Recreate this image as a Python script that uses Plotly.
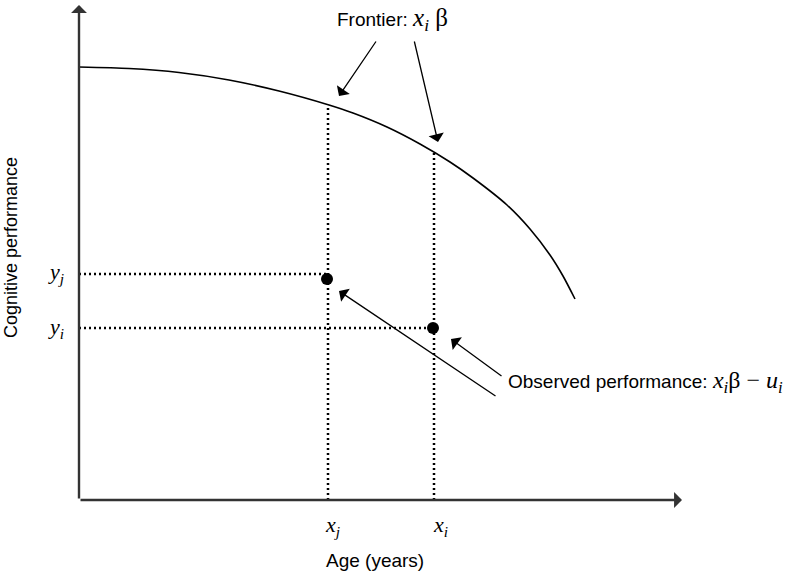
import plotly.graph_objects as go

# ---- data (schematic units: origin at the axes corner) ----
frontier_x = [0, 50, 100, 150, 200, 250, 274, 308, 341, 371, 394, 428, 451, 471, 484, 496]
frontier_y = [433, 431.5, 427.5, 420, 409, 395, 387, 373, 356, 338, 322, 295, 271, 245, 224, 201]

obs_x = [248, 354]            # x_j, x_i
obs_y = [221, 172]            # y_j, y_i
frontier_at_obs = [395, 347]  # frontier height above x_j, x_i
hline_y = [226, 172]          # dotted guide levels for y_j, y_i

x_tick_labels = ["x<sub>j</sub>", "x<sub>i</sub>"]
y_tick_labels = ["y<sub>j</sub>", "y<sub>i</sub>"]

axis_x_end = 603
axis_y_end = 495

# arrows: (tail_x, tail_y, tip_x, tip_y)
frontier_arrows = [(298, 460, 260, 404), (335, 460, 359, 358)]
observed_arrows = [(418, 103, 260, 209), (424, 123, 372, 161)]

SANS = "Liberation Sans, Arial, sans-serif"
SERIF = "Liberation Serif, Times New Roman, serif"


def math(s, size):
    return f"<span style=\"font-family:'Liberation Serif';font-size:{size}px\">{s}</span>"


fig = go.Figure()

# dotted guide lines
for xv, top in zip(obs_x, frontier_at_obs):
    fig.add_trace(go.Scatter(x=[xv + 1, xv + 1], y=[0, top], mode="lines",
                             line=dict(color="black", width=2.5, dash="2px,3px"),
                             hoverinfo="skip", showlegend=False))
for xv, yv in zip(obs_x, hline_y):
    fig.add_trace(go.Scatter(x=[0, xv], y=[yv, yv], mode="lines",
                             line=dict(color="black", width=2.5, dash="2px,3px"),
                             hoverinfo="skip", showlegend=False))

# frontier curve
fig.add_trace(go.Scatter(x=frontier_x, y=frontier_y, mode="lines",
                         line=dict(color="black", width=1.6, shape="spline", smoothing=0.7),
                         hoverinfo="skip", showlegend=False))

# observed points
fig.add_trace(go.Scatter(x=obs_x, y=obs_y, mode="markers",
                         marker=dict(color="black", size=12),
                         hoverinfo="skip", showlegend=False))

annotations = []
# axes with arrowheads
annotations.append(dict(x=axis_x_end, y=0, ax=0, ay=0, xref="x", yref="y", axref="x", ayref="y",
                        text="", showarrow=True, arrowhead=1, arrowsize=1.1, arrowwidth=2.4,
                        arrowcolor="#333333", standoff=0))
annotations.append(dict(x=0, y=axis_y_end, ax=0, ay=0, xref="x", yref="y", axref="x", ayref="y",
                        text="", showarrow=True, arrowhead=1, arrowsize=1.1, arrowwidth=2.4,
                        arrowcolor="#333333", standoff=0))

for tx, ty, hx, hy in frontier_arrows + observed_arrows:
    annotations.append(dict(x=hx, y=hy, ax=tx, ay=ty, xref="x", yref="y", axref="x", ayref="y",
                            text="", showarrow=True, arrowhead=1, arrowsize=2.0, arrowwidth=1.3,
                            arrowcolor="black", standoff=0))

# text labels
annotations.append(dict(x=392 - 79, y=481, xref="x", yref="y", showarrow=False,
                        text="Frontier: " + math("<i>x<sub>i</sub></i> β", 25),
                        font=dict(family=SANS, size=19, color="black")))
annotations.append(dict(x=427, y=118, xref="x", yref="y", showarrow=False, xanchor="left",
                        text="Observed performance: " + math("<i>x<sub>i</sub></i>β − <i>u<sub>i</sub></i>", 24),
                        font=dict(family=SANS, size=19, color="black")))
for xv, lab in zip([obs_x[0] + 5, obs_x[1] + 7], x_tick_labels):
    annotations.append(dict(x=xv, y=-26, xref="x", yref="y", showarrow=False,
                            text=f"<i>{lab}</i>",
                            font=dict(family=SERIF, size=22, color="black")))
for yv, lab in zip([obs_y[0] + 6, obs_y[1]], y_tick_labels):
    annotations.append(dict(x=-23, y=yv, xref="x", yref="y", showarrow=False,
                            text=f"<i>{lab}</i>",
                            font=dict(family=SERIF, size=22, color="black")))
annotations.append(dict(x=296, y=-60, xref="x", yref="y", showarrow=False,
                        text="Age (years)", font=dict(family=SANS, size=19, color="black")))
annotations.append(dict(x=-68, y=252, xref="x", yref="y", showarrow=False, textangle=-90,
                        text="Cognitive performance", font=dict(family=SANS, size=18, color="black")))

fig.update_layout(
    width=789, height=575,
    margin=dict(l=0, r=0, t=0, b=0, autoexpand=False),
    paper_bgcolor="white", plot_bgcolor="white",
    xaxis=dict(range=[-79, 710], visible=False, fixedrange=True),
    yaxis=dict(range=[-75, 500], visible=False, fixedrange=True),
    annotations=annotations,
    showlegend=False,
    hovermode=False,
)

fig.write_html("out.html",
               config={"displayModeBar": False, "staticPlot": True},
               post_script="document.body.style.margin='0';document.body.style.overflow='hidden';")
